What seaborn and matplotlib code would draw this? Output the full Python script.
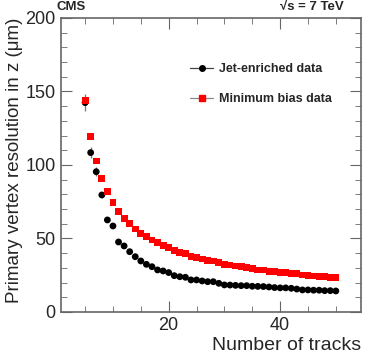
import numpy as np
import pandas as pd
import seaborn as sns
import matplotlib.pyplot as plt
from matplotlib.lines import Line2D
from matplotlib.ticker import MultipleLocator

# number of tracks in the vertex
tracks = list(range(5, 51))

# jet-enriched sample (um)
jet_res = [142.4, 108.4, 95.4, 79.6, 62.6, 58.5, 47.6, 44.9, 41.0, 37.6,
           34.7, 32.4, 30.8, 28.6, 27.9, 26.8, 24.7, 24.0, 23.6, 21.8,
           21.8, 21.1, 20.6, 20.6, 19.5, 18.4, 18.3, 18.1, 17.9, 17.9,
           17.5, 17.4, 17.3, 17.0, 16.6, 16.4, 16.4, 16.1, 15.6, 15.0,
           15.0, 14.8, 14.8, 14.5, 14.5, 14.3]
jet_err = [6.0, 4.0, 3.0, 2.0, 1.2, 1.0, 0.8, 0.7, 0.6, 0.5] + [0.4] * 36

# minimum bias sample (um)
mb_res = [143.7, 119.2, 102.7, 90.9, 82.1, 74.4, 68.2, 63.7, 60.3, 56.5,
          53.5, 51.2, 49.0, 47.1, 45.1, 43.7, 41.7, 40.3, 39.5, 37.6,
          36.9, 36.0, 34.9, 34.7, 33.5, 32.4, 32.0, 31.3, 30.8, 30.1,
          29.3, 28.6, 28.6, 27.4, 27.4, 27.0, 26.8, 26.3, 26.3, 25.2,
          24.7, 24.5, 24.0, 24.0, 23.4, 23.4]
mb_err = [3.0, 1.5, 1.0, 0.8] + [0.4] * 42

df = pd.concat([
    pd.DataFrame({"tracks": tracks, "res": jet_res, "err": jet_err, "sample": "Jet-enriched data"}),
    pd.DataFrame({"tracks": tracks, "res": mb_res, "err": mb_err, "sample": "Minimum bias data"}),
])

sns.set_style("ticks")
plt.rcParams['font.family'] = ['Liberation Sans', 'DejaVu Sans']

fig = plt.figure(figsize=(3.74, 3.59), dpi=100)
ax = fig.add_axes([0.162, 0.131, 0.803, 0.819])

colors = {"Jet-enriched data": "black", "Minimum bias data": "#ff0000"}
markers = {"Jet-enriched data": "o", "Minimum bias data": "s"}

for name, sub in df.groupby("sample"):
    ax.errorbar(sub["tracks"], sub["res"], yerr=sub["err"], fmt="none",
                ecolor="#777777", elinewidth=0.9, capsize=0, zorder=2)

sns.scatterplot(data=df, x="tracks", y="res", hue="sample", style="sample",
                palette=colors, markers=markers, s=24, linewidth=0,
                legend=False, ax=ax, zorder=3)

ax.set_xlim(0.6, 54.5)
ax.set_ylim(0, 200)
ax.xaxis.set_major_locator(MultipleLocator(20))
ax.xaxis.set_minor_locator(MultipleLocator(5))
ax.yaxis.set_major_locator(MultipleLocator(50))
ax.yaxis.set_minor_locator(MultipleLocator(10))
ax.tick_params(which="both", direction="in", top=True, right=True,
               color="#666666", labelsize=13)
ax.tick_params(which="major", length=8)
ax.tick_params(which="minor", length=4)
for sp in ax.spines.values():
    sp.set_color("#666666")
    sp.set_linewidth(1.2)

ax.set_xlabel("Number of tracks", fontsize=14, loc="right", labelpad=2)
ax.set_ylabel("Primary vertex resolution in z (\u03bcm)", fontsize=13.5, loc="top", labelpad=2)

handles = [
    Line2D([], [], color="#444444", lw=0.9, marker="o", markersize=4,
           markerfacecolor="black", markeredgecolor="black"),
    Line2D([], [], color="#888888", lw=0.9, marker="s", markersize=4,
           markerfacecolor="#ff0000", markeredgecolor="#ff0000"),
]
ax.legend(handles, ["Jet-enriched data", "Minimum bias data"], loc="upper left",
          bbox_to_anchor=(0.395, 0.885), frameon=False, handlelength=1.8,
          handletextpad=0.45, labelspacing=1.45,
          prop={"weight": "bold", "size": 9})

fig.text(0.152, 0.963, "CMS", fontsize=9.5, fontweight="bold", ha="left", va="bottom")
fig.text(0.92, 0.963, "\u221as = 7 TeV", fontsize=9.5, fontweight="bold", ha="right", va="bottom")

fig.savefig("out.png", dpi=100)
